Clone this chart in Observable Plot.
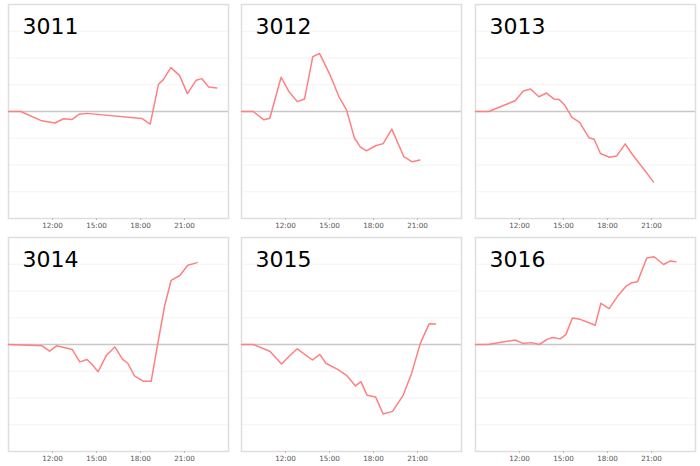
<!DOCTYPE html>
<html>
<head>
<meta charset="utf-8">
<script src="https://cdn.jsdelivr.net/npm/d3@7"></script>
<script src="https://cdn.jsdelivr.net/npm/@observablehq/plot@0.6"></script>
<style>
  html, body { margin: 0; padding: 0; background: #fff; }
  #wrap { position: relative; width: 700px; height: 466px; overflow: hidden; }
  #wrap svg { position: absolute; overflow: visible; }
</style>
</head>
<body>
<div id="wrap"></div>
<script>
// Panel names
const panels = ["3011", "3012", "3013", "3014", "3015", "3016"];

// Hours of day (decimal) and values for each panel
const t3011 = [9.0, 9.84, 11.27, 12.18, 12.75, 13.32, 13.82, 14.34, 18.09, 18.66, 19.23, 19.57, 20.07, 20.66, 21.2, 21.8, 22.18, 22.64, 23.2];
const v3011 = [0, 0, -0.35, -0.43, -0.27, -0.30, -0.10, -0.07, -0.26, -0.47, 1.02, 1.20, 1.64, 1.35, 0.67, 1.17, 1.23, 0.92, 0.88];

const t3012 = [9.0, 9.8, 10.53, 10.93, 11.7, 12.23, 12.8, 13.3, 13.86, 14.32, 15.02, 15.64, 16.16, 16.7, 17.11, 17.52, 18.14, 18.66, 19.25, 20.07, 20.64, 21.16];
const v3012 = [0, 0, -0.31, -0.25, 1.28, 0.75, 0.37, 0.47, 2.05, 2.17, 1.39, 0.56, 0.06, -0.99, -1.33, -1.47, -1.28, -1.2, -0.66, -1.69, -1.88, -1.81];

const t3013 = [9.0, 9.9, 11.7, 12.26, 12.76, 13.32, 13.84, 14.34, 14.7, 15.08, 15.58, 16.1, 16.73, 17.09, 17.52, 18.13, 18.63, 19.21, 19.67, 20.4, 21.13];
const v3013 = [0, 0, 0.40, 0.77, 0.84, 0.55, 0.69, 0.47, 0.45, 0.24, -0.22, -0.41, -0.98, -1.04, -1.57, -1.71, -1.66, -1.21, -1.59, -2.1, -2.63];

const t3014 = [9.0, 11.3, 11.8, 12.28, 13.35, 13.86, 14.36, 14.7, 15.11, 15.68, 16.25, 16.77, 17.14, 17.59, 18.18, 18.73, 19.18, 19.64, 20.09, 20.68, 21.23, 21.86];
const v3014 = [0, -0.05, -0.25, -0.05, -0.19, -0.65, -0.56, -0.75, -1.02, -0.40, -0.09, -0.55, -0.71, -1.17, -1.37, -1.37, 0.04, 1.43, 2.4, 2.58, 2.96, 3.06];

const t3015 = [9.0, 9.8, 10.93, 11.73, 12.3, 12.8, 13.84, 14.34, 14.75, 15.59, 16.16, 16.77, 17.14, 17.57, 18.14, 18.66, 19.3, 20.02, 20.59, 21.2, 21.8, 22.23];
const v3015 = [0, 0, -0.25, -0.73, -0.41, -0.16, -0.58, -0.37, -0.70, -0.94, -1.15, -1.55, -1.39, -1.9, -1.96, -2.6, -2.5, -1.9, -1.09, 0.05, 0.78, 0.77];

const t3016 = [9.0, 9.86, 11.7, 12.23, 12.82, 13.34, 13.91, 14.27, 14.77, 15.16, 15.61, 16.14, 17.16, 17.55, 18.11, 18.68, 19.25, 19.66, 20.05, 20.68, 21.18, 21.82, 22.27, 22.66];
const v3016 = [0, 0, 0.17, 0.04, 0.07, 0, 0.2, 0.26, 0.21, 0.37, 0.99, 0.94, 0.72, 1.54, 1.34, 1.8, 2.17, 2.31, 2.35, 3.23, 3.28, 2.99, 3.12, 3.09];

const times = [t3011, t3012, t3013, t3014, t3015, t3016];
const values = [v3011, v3012, v3013, v3014, v3015, v3016];

// Axis ticks
const xTicks = [12, 15, 18, 21];
const gridValues = [-3, -2, -1, 1, 2, 3];

const colLeft = [8, 241, 475];
const rowTop = [4, 237];
const W = 220, H = 214;

const wrap = document.getElementById("wrap");

panels.forEach((name, i) => {
  const data = times[i].map((t, k) => ({t, v: values[i][k]}));
  const chart = Plot.plot({
    width: W + 2,
    height: H + 2 + 22,
    marginLeft: 1,
    marginRight: 1,
    marginTop: 1,
    marginBottom: 23,
    style: {background: "transparent", fontFamily: "DejaVu Sans, Verdana, sans-serif"},
    x: {type: "linear", domain: [9, 24]},
    y: {domain: [-4, 4], axis: null},
    marks: [
      Plot.ruleY(gridValues, {stroke: "#f3f3f3", strokeWidth: 1}),
      Plot.ruleY([0], {stroke: "#c8c8c8", strokeWidth: 1.5}),
      Plot.frame({stroke: "#dedede", strokeWidth: 1.5}),
      Plot.axisX(xTicks, {
        tickFormat: (h) => `${h}:00`,
        tickSize: 2,
        tickPadding: 2.5,
        fontSize: 7.2,
        color: "#555",
        stroke: "#bbb",
        label: null
      }),
      Plot.line(data, {x: "t", y: "v", stroke: "#ff8080", strokeWidth: 1.5}),
      Plot.text([name], {
        text: (d) => d,
        frameAnchor: "top-left",
        textAnchor: "start",
        lineAnchor: "top",
        dx: 14,
        dy: 14,
        fontSize: 22,
        fill: "#000"
      })
    ]
  });
  const col = i % 3, row = Math.floor(i / 3);
  chart.style.left = (colLeft[col] - 1) + "px";
  chart.style.top = (rowTop[row] - 1) + "px";
  wrap.appendChild(chart);
});
</script>
</body>
</html>
